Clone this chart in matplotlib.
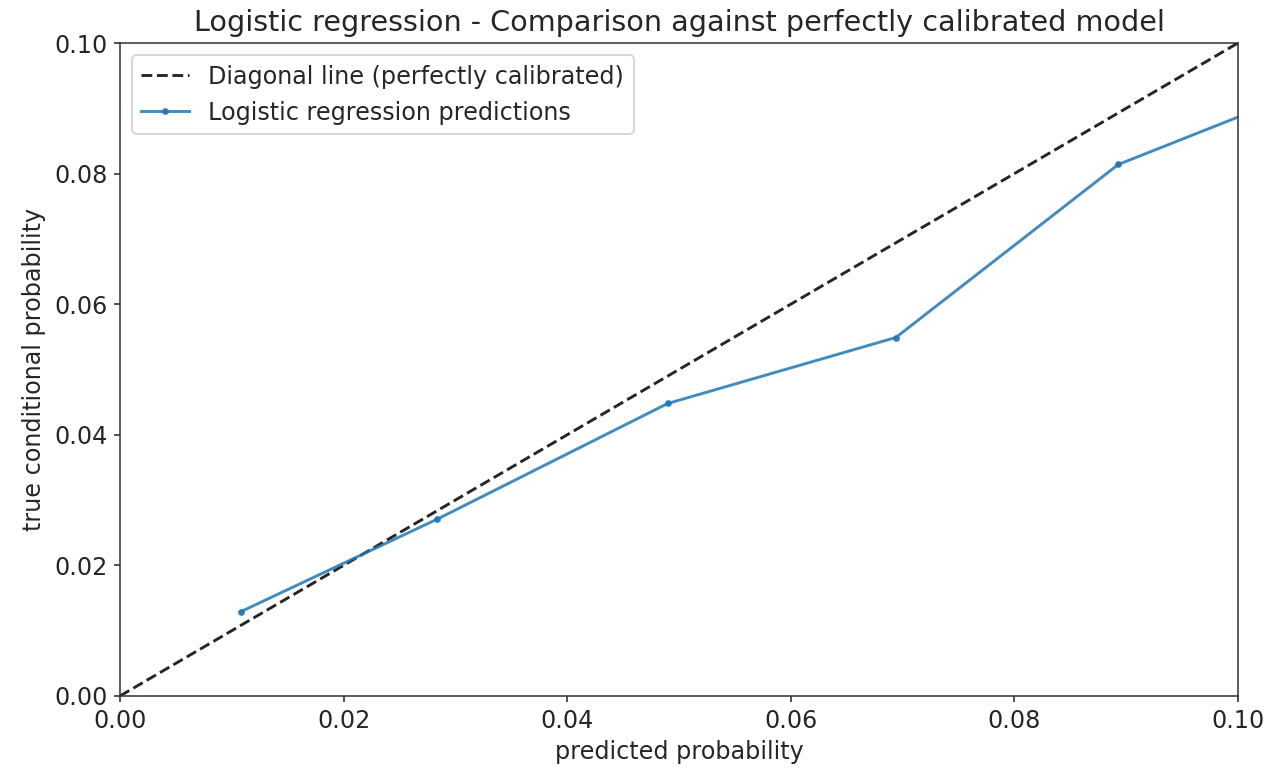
import numpy as np
import matplotlib.pyplot as plt

# srednie przewidywane prawdopodobienstwa w koszykach i odsetek pozytywnych
pred_prob = [0.0108, 0.0284, 0.0490, 0.0694, 0.0893, 0.1095]
true_prob = [0.0129, 0.0271, 0.0448, 0.0549, 0.0814, 0.0951]
diag = [0.0, 0.1]

plt.rcParams["font.size"] = 12.3
plt.rcParams["text.color"] = "#262626"
plt.rcParams["axes.labelcolor"] = "#262626"
plt.rcParams["xtick.color"] = "#262626"
plt.rcParams["ytick.color"] = "#262626"
plt.rcParams["axes.edgecolor"] = "#333333"

fig = plt.figure(figsize=(1268 / 140, 771 / 140), dpi=140)
ax = fig.add_axes([0.0946, 0.0973, 0.8817, 0.8469])

ax.plot(diag, diag, "k--", alpha=0.85, label="Diagonal line (perfectly calibrated)")
ax.plot(pred_prob, true_prob, marker=".", markersize=5, color="C0", alpha=0.85,
        label="Logistic regression predictions")

ax.set_xlim(0, 0.1)
ax.set_ylim(0, 0.1)
ax.tick_params(length=3)
ax.set_xlabel("predicted probability")
ax.set_ylabel("true conditional probability")
ax.set_title("Logistic regression - Comparison against perfectly calibrated model")
ax.legend(loc="upper left")

fig.savefig("out.png", dpi=140)
